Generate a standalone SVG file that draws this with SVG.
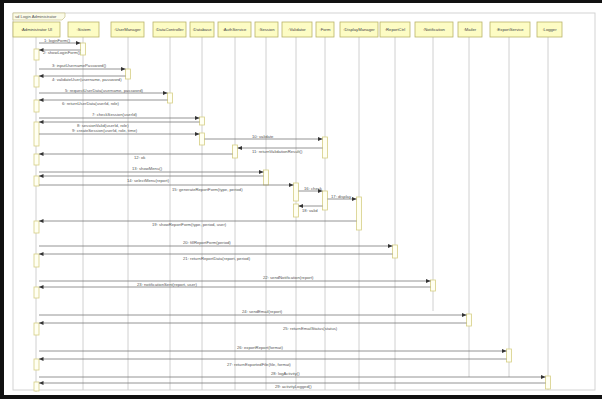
<svg xmlns="http://www.w3.org/2000/svg" width="602" height="399" viewBox="0 0 602 399">
  <defs>
    <marker id="arr" viewBox="0 0 6 6" refX="6" refY="3" markerWidth="4.5" markerHeight="4" markerUnits="userSpaceOnUse" orient="auto" preserveAspectRatio="none">
      <path d="M0,0 L6,3 L0,6 Z" fill="#333"/>
    </marker>
  </defs>
  <style>
    text { font-family: "Liberation Sans", Arial, sans-serif; font-size: 4.2px; fill: #555; }
    .head rect { fill: #fdfcc4; stroke: #b9b36a; stroke-width: 0.8; }
    .head text { text-anchor: middle; fill: #444; }
    .life { stroke: #c4c4c4; stroke-width: 0.8; fill: none; }
    .act { fill: #fffff2; stroke: #d6cf85; stroke-width: 0.8; }
    .msg { stroke: #7a7a7a; stroke-width: 0.8; fill: none; marker-end: url(#arr); }
    .frame { fill: none; stroke: #cfcfcf; stroke-width: 0.9; }
  </style>

  <!-- page background and edge -->
  <rect x="0" y="0" width="602" height="399" fill="#ffffff"/>
  <rect x="0" y="0" width="602" height="3" fill="#111"/>
  <rect x="0" y="0" width="4" height="399" fill="#111"/>
  <rect x="0" y="395" width="602" height="4" fill="#111"/>

  <!-- interaction frame -->
  <g id="frame">
    <rect class="frame" x="13" y="13" width="582" height="377"/>
    <path d="M13,13 L65,13 L65,17 L62,20 L13,20 Z" fill="#fbfbe8" stroke="#c9c28a" stroke-width="0.7"/>
    <text x="15" y="18">sd Login Administrator</text>
  </g>

  <!-- lifelines -->
  <g id="lifelines">
    <line class="life" x1="36" y1="37" x2="36" y2="392"/>
    <line class="life" x1="83" y1="37" x2="83" y2="390"/>
    <line class="life" x1="128" y1="37" x2="128" y2="390"/>
    <line class="life" x1="170" y1="37" x2="170" y2="390"/>
    <line class="life" x1="202" y1="37" x2="202" y2="390"/>
    <line class="life" x1="235" y1="37" x2="235" y2="390"/>
    <line class="life" x1="266" y1="37" x2="266" y2="390"/>
    <line class="life" x1="296" y1="37" x2="296" y2="390"/>
    <line class="life" x1="325" y1="37" x2="325" y2="390"/>
    <line class="life" x1="359" y1="37" x2="359" y2="390"/>
    <line class="life" x1="395" y1="37" x2="395" y2="390"/>
    <line class="life" x1="433" y1="37" x2="433" y2="311"/>
    <line class="life" x1="469" y1="37" x2="469" y2="377"/>
    <line class="life" x1="509" y1="37" x2="509" y2="377"/>
    <line class="life" x1="548" y1="37" x2="548" y2="390"/>
  </g>

  <!-- participants -->
  <g id="p1" class="head"><rect x="13" y="22" width="47" height="15"/><text x="36.5" y="31">:Administrator UI</text></g>
  <g id="p2" class="head"><rect x="68" y="22" width="31" height="15"/><text x="83.5" y="31">:Sistem</text></g>
  <g id="p3" class="head"><rect x="111" y="22" width="33" height="15"/><text x="127.5" y="31">:UserManager</text></g>
  <g id="p4" class="head"><rect x="153" y="22" width="33" height="15"/><text x="169.5" y="31">:DataController</text></g>
  <g id="p5" class="head"><rect x="190" y="22" width="24" height="15"/><text x="202" y="31">:Database</text></g>
  <g id="p6" class="head"><rect x="218" y="22" width="33" height="15"/><text x="234.5" y="31">:AuthService</text></g>
  <g id="p7" class="head"><rect x="255" y="22" width="23" height="15"/><text x="266.5" y="31">:Session</text></g>
  <g id="p8" class="head"><rect x="282" y="22" width="30" height="15"/><text x="297" y="31">:Validator</text></g>
  <g id="p9" class="head"><rect x="316" y="22" width="18" height="15"/><text x="325" y="31">:Form</text></g>
  <g id="p10" class="head"><rect x="340" y="22" width="38" height="15"/><text x="359" y="31">:DisplayManager</text></g>
  <g id="p11" class="head"><rect x="380" y="22" width="30" height="15"/><text x="395" y="31">:ReportCtrl</text></g>
  <g id="p12" class="head"><rect x="415" y="22" width="38" height="15"/><text x="434" y="31">:Notification</text></g>
  <g id="p13" class="head"><rect x="458" y="22" width="24" height="15"/><text x="470" y="31">:Mailer</text></g>
  <g id="p14" class="head"><rect x="490" y="22" width="40" height="15"/><text x="510" y="31">:ExportService</text></g>
  <g id="p15" class="head"><rect x="537" y="22" width="25" height="15"/><text x="549.5" y="31">:Logger</text></g>

  <!-- activation bars -->
  <g id="activations">
    <rect class="act" x="34" y="49" width="5" height="11"/>
    <rect class="act" x="34" y="76" width="5" height="11"/>
    <rect class="act" x="34" y="100" width="5" height="12"/>
    <rect class="act" x="34" y="122" width="5" height="24"/>
    <rect class="act" x="34" y="154" width="5" height="11"/>
    <rect class="act" x="34" y="176" width="5" height="10"/>
    <rect class="act" x="34" y="221" width="5" height="12"/>
    <rect class="act" x="34" y="254" width="5" height="13"/>
    <rect class="act" x="34" y="287" width="5" height="11"/>
    <rect class="act" x="34" y="323" width="5" height="12"/>
    <rect class="act" x="34" y="359" width="5" height="11"/>
    <rect class="act" x="34" y="382" width="5" height="9"/>
    <rect class="act" x="80.5" y="43" width="5" height="12"/>
    <rect class="act" x="125.5" y="69" width="5" height="10"/>
    <rect class="act" x="167.5" y="93" width="5" height="10"/>
    <rect class="act" x="199.5" y="117" width="5" height="8"/>
    <rect class="act" x="199.5" y="133" width="5" height="12"/>
    <rect class="act" x="232.5" y="145" width="5" height="13"/>
    <rect class="act" x="322.5" y="137" width="5" height="21"/>
    <rect class="act" x="263.5" y="170" width="5" height="15"/>
    <rect class="act" x="293.5" y="183" width="5" height="18"/>
    <rect class="act" x="293.5" y="204" width="5" height="13"/>
    <rect class="act" x="322.5" y="191" width="5" height="19"/>
    <rect class="act" x="356.5" y="197" width="5" height="33"/>
    <rect class="act" x="392.5" y="245" width="5" height="13"/>
    <rect class="act" x="430.5" y="280" width="5" height="11"/>
    <rect class="act" x="466.5" y="314" width="5" height="12"/>
    <rect class="act" x="506.5" y="349" width="5" height="13"/>
    <rect class="act" x="545.5" y="376" width="5" height="13"/>
  </g>

  <!-- messages -->
  <g id="connectors">
    <line class="msg" x1="39" y1="43" x2="80.5" y2="43"/>
    <line class="msg" x1="80.5" y1="50" x2="39" y2="50"/>
    <line class="msg" x1="39" y1="69" x2="125.5" y2="69"/>
    <line class="msg" x1="125.5" y1="76" x2="39" y2="76"/>
    <line class="msg" x1="39" y1="93" x2="167.5" y2="93"/>
    <line class="msg" x1="167.5" y1="100" x2="39" y2="100"/>
    <line class="msg" x1="39" y1="118" x2="199.5" y2="118"/>
    <line class="msg" x1="199.5" y1="122" x2="39" y2="122"/>
    <line class="msg" x1="39" y1="134" x2="199.5" y2="134"/>
    <line class="msg" x1="204.5" y1="139" x2="322.5" y2="139"/>
    <line class="msg" x1="322.5" y1="148" x2="237.5" y2="148"/>
    <line class="msg" x1="232.5" y1="154" x2="39" y2="154"/>
    <line class="msg" x1="39" y1="172" x2="263.5" y2="172"/>
    <line class="msg" x1="263.5" y1="176" x2="39" y2="176"/>
    <line class="msg" x1="39" y1="185" x2="293.5" y2="185"/>
    <line class="msg" x1="298.5" y1="191" x2="322.5" y2="191"/>
    <line class="msg" x1="327.5" y1="199" x2="356.5" y2="199"/>
    <line class="msg" x1="322.5" y1="206" x2="298.5" y2="206"/>
    <line class="msg" x1="356.5" y1="221" x2="39" y2="221"/>
    <line class="msg" x1="39" y1="246" x2="392.5" y2="246"/>
    <line class="msg" x1="392.5" y1="254" x2="39" y2="254"/>
    <line class="msg" x1="39" y1="281" x2="430.5" y2="281"/>
    <line class="msg" x1="430.5" y1="287" x2="39" y2="287"/>
    <line class="msg" x1="39" y1="315" x2="466.5" y2="315"/>
    <line class="msg" x1="466.5" y1="323" x2="39" y2="323"/>
    <line class="msg" x1="39" y1="351" x2="506.5" y2="351"/>
    <line class="msg" x1="506.5" y1="359" x2="39" y2="359"/>
    <line class="msg" x1="39" y1="377" x2="545.5" y2="377"/>
    <line class="msg" x1="545.5" y1="383" x2="39" y2="383"/>
  </g>

  <!-- message labels -->
  <g id="labels">
    <text x="44" y="41.5">1: loginForm()</text>
    <text x="43" y="54">2: showLoginForm()</text>
    <text x="52" y="67">3: inputUsernamePassword()</text>
    <text x="52" y="80.5">4: validateUser(username, password)</text>
    <text x="65" y="91.5">5: requestUserData(username, password)</text>
    <text x="62" y="104.5">6: returnUserData(userId, role)</text>
    <text x="92" y="116">7: checkSession(userId)</text>
    <text x="77" y="127">8: sessionValid(userId, role)</text>
    <text x="72" y="132">9: createSession(userId, role, time)</text>
    <text x="252" y="137.5">10: validate</text>
    <text x="252" y="152.5">11: returnValidationResult()</text>
    <text x="134" y="158.5">12: ok</text>
    <text x="132" y="170">13: showMenu()</text>
    <text x="127" y="181.5">14: selectMenu(report)</text>
    <text x="172" y="191">15: generateReportForm(type, period)</text>
    <text x="304" y="190">16: check</text>
    <text x="331" y="197.5">17: display</text>
    <text x="302" y="211.5">18: valid</text>
    <text x="152" y="226">19: showReportForm(type, period, user)</text>
    <text x="183" y="244">20: fillReportForm(period)</text>
    <text x="183" y="259.5">21: returnReportData(report, period)</text>
    <text x="263" y="279">22: sendNotification(report)</text>
    <text x="137" y="285.5">23: notificationSent(report, user)</text>
    <text x="242" y="313">24: sendEmail(report)</text>
    <text x="283" y="330">25: returnEmailStatus(status)</text>
    <text x="237" y="349">26: exportReport(format)</text>
    <text x="227" y="366">27: returnExportedFile(file, format)</text>
    <text x="271" y="375">28: logActivity()</text>
    <text x="275" y="388">29: activityLogged()</text>
  </g>
</svg>
